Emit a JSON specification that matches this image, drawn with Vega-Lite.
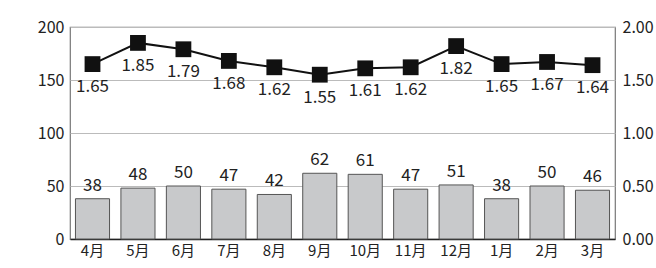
{
  "$schema": "https://vega.github.io/schema/vega-lite/v6.json",
  "autosize": "none",
  "width": 545,
  "height": 212,
  "padding": {"left": 70, "top": 27, "right": 41, "bottom": 29},
  "background": "white",
  "config": {
    "font": "Noto Sans CJK JP",
    "view": {"stroke": "#777", "strokeWidth": 1.2},
    "axis": {"labelFont": "Noto Sans CJK JP", "labelFontSize": 16, "labelColor": "#222", "domainColor": "#555", "tickColor": "#555"}
  },
  "data": {"values": [
    {"month": "4月", "count": 38, "rate": 1.65},
    {"month": "5月", "count": 48, "rate": 1.85},
    {"month": "6月", "count": 50, "rate": 1.79},
    {"month": "7月", "count": 47, "rate": 1.68},
    {"month": "8月", "count": 42, "rate": 1.62},
    {"month": "9月", "count": 62, "rate": 1.55},
    {"month": "10月", "count": 61, "rate": 1.61},
    {"month": "11月", "count": 47, "rate": 1.62},
    {"month": "12月", "count": 51, "rate": 1.82},
    {"month": "1月", "count": 38, "rate": 1.65},
    {"month": "2月", "count": 50, "rate": 1.67},
    {"month": "3月", "count": 46, "rate": 1.64}
  ]},
  "encoding": {
    "x": {"field": "month", "type": "ordinal", "sort": null, "title": null,
      "scale": {"paddingInner": 0.25, "paddingOuter": 0.12},
      "axis": {"labelAngle": 0, "ticks": false, "labelPadding": 4, "labelFontSize": 15, "domainColor": "#222", "domainWidth": 1.5}}
  },
  "layer": [
    {
      "layer": [
        {"mark": {"type": "bar", "fill": "#c8c9cb", "stroke": "#555", "strokeWidth": 1},
         "encoding": {"y": {"field": "count", "type": "quantitative", "title": null,
           "scale": {"domain": [0, 200]},
           "axis": {"values": [0, 50, 100, 150, 200], "grid": true, "gridColor": "#bbb", "ticks": false, "labelPadding": 6, "domain": false}}}},
        {"mark": {"type": "text", "baseline": "bottom", "dy": -4, "fontSize": 17, "color": "#222"},
         "encoding": {"y": {"field": "count", "type": "quantitative"}, "text": {"field": "count"}}}
      ]
    },
    {
      "layer": [
        {"mark": {"type": "line", "color": "#111", "strokeWidth": 2},
         "encoding": {"y": {"field": "rate", "type": "quantitative", "title": null,
           "scale": {"domain": [0, 2]},
           "axis": {"orient": "right", "values": [0, 0.5, 1, 1.5, 2], "format": ".2f", "grid": false, "ticks": false, "labelPadding": 7, "domain": false}}}},
        {"mark": {"type": "square", "size": 250, "color": "#111", "opacity": 1, "filled": true},
         "encoding": {"y": {"field": "rate", "type": "quantitative"}}},
        {"mark": {"type": "text", "baseline": "middle", "dy": 23, "fontSize": 17, "color": "#222"},
         "encoding": {"y": {"field": "rate", "type": "quantitative"}, "text": {"field": "rate", "format": ".2f"}}}
      ]
    }
  ],
  "resolve": {"scale": {"y": "independent"}}
}
